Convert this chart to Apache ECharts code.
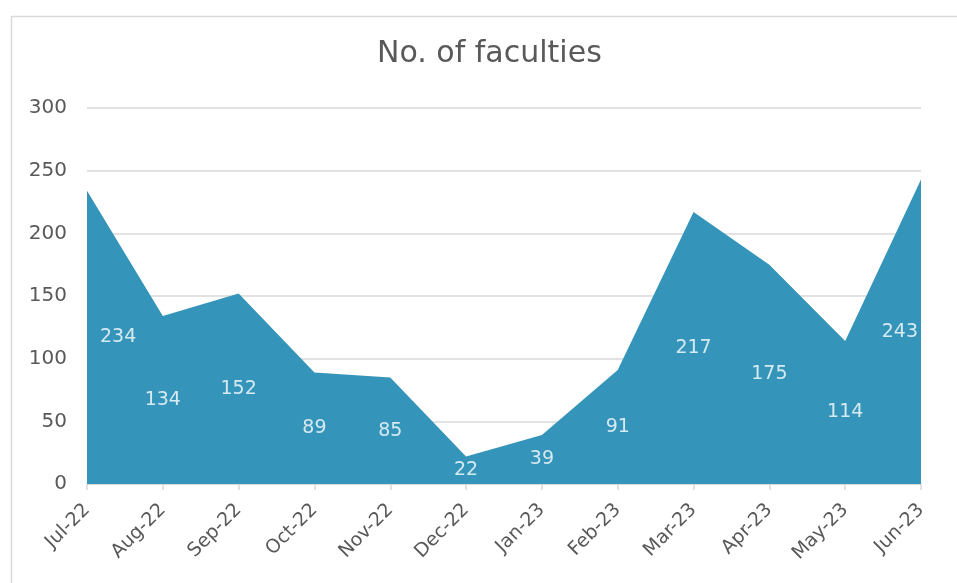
<!DOCTYPE html>
<html>
<head>
<meta charset="utf-8">
<script src="https://cdn.jsdelivr.net/npm/echarts@6/dist/echarts.min.js"></script>
<style>
html,body{margin:0;padding:0;background:#fff;}
#c{width:957px;height:583px;}
</style>
</head>
<body>
<div id="c"></div>
<script>
const categories = ["Jul-22","Aug-22","Sep-22","Oct-22","Nov-22","Dec-22","Jan-23","Feb-23","Mar-23","Apr-23","May-23","Jun-23"];
const faculties = [234,134,152,89,85,22,39,91,217,175,114,243];
const yTicks = [0,50,100,150,200,250,300];

const FONT = "DejaVu Sans";
const chart = echarts.init(document.getElementById('c'), null, {renderer:'canvas'});

const labelData = faculties.map(function(v, i){
  const item = {value:[i, v/2], raw:v};
  if (i === 0) item.label = {align:'left', offset:[13,0]};
  if (i === faculties.length-1) item.label = {align:'right', offset:[-3,0]};
  return item;
});

chart.setOption({
  animation:false,
  graphic:[{type:'rect', left:9, top:14, shape:{width:1000, height:620},
    style:{fill:'none', stroke:'#d9d9d9', lineWidth:1.5}, silent:true, z:-10}],
  title:{text:'No. of faculties', left:372, top:34,
    textStyle:{fontFamily:FONT, fontSize:30, fontWeight:'normal', color:'#595959'}},
  grid:{left:87, right:36, top:108, bottom:99, containLabel:false},
  xAxis:{type:'category', data:categories, boundaryGap:false,
    axisLine:{lineStyle:{color:'#d9d9d9', width:1.5}},
    axisTick:{show:true, alignWithLabel:true, length:6, lineStyle:{color:'#d9d9d9', width:1.5}},
    axisLabel:{rotate:45, interval:0, margin:23, fontFamily:FONT, fontSize:19, color:'#595959'}
  },
  yAxis:{type:'value', min:yTicks[0], max:yTicks[yTicks.length-1], interval:50,
    axisLine:{show:false}, axisTick:{show:false},
    splitLine:{lineStyle:{color:'#d9d9d9', width:1.5}},
    axisLabel:{margin:20, fontFamily:FONT, fontSize:20, color:'#595959'}
  },
  series:[
    {type:'line', data:faculties, symbol:'none', lineStyle:{width:0},
     areaStyle:{color:'#3494ba', opacity:1}, z:2},
    {type:'scatter', data:labelData, symbolSize:0, z:5,
     label:{show:true, position:'inside', color:'#ffffff', fontFamily:FONT, fontSize:19,
       formatter:function(p){return String(p.data.raw);}}}
  ]
});
</script>
</body>
</html>
